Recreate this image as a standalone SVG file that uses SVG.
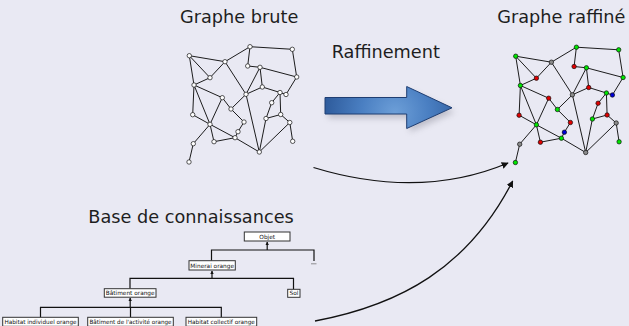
<svg xmlns="http://www.w3.org/2000/svg" xmlns:xlink="http://www.w3.org/1999/xlink" width="629" height="326" viewBox="0 0 629 326">
  <style>
    .title { font-family: "DejaVu Sans", "Liberation Sans", sans-serif; font-size: 17.7px; fill: #1e1e1e; }
    .edge { stroke: #111; stroke-width: 0.95; fill: none; stroke-linecap: round; }
    .v { stroke: #111; stroke-width: 0.7; }
    .w { fill: #ffffff; }
    .g { fill: #00e600; }
    .r { fill: #e00000; }
    .b { fill: #0000d8; }
    .k { fill: #8a8a8a; }
    .box { fill: #ffffff; stroke: #333; stroke-width: 1; }
    .boxtxt { font-family: "DejaVu Sans", "Liberation Sans", sans-serif; font-size: 5.8px; fill: #111; text-anchor: middle; }
    .tree { stroke: #111; stroke-width: 1.2; fill: none; }
    .flow { stroke: #111; stroke-width: 1.3; fill: none; }
  </style>
  <defs>
    <marker id="tip" viewBox="0 0 10 10" refX="9" refY="5" markerWidth="7" markerHeight="7" markerUnits="userSpaceOnUse" orient="auto">
      <path d="M0,0 L10,5 L0,10 z" fill="#111"/>
    </marker>
    <marker id="tinyTip" viewBox="0 0 10 10" refX="9" refY="5" markerWidth="3.5" markerHeight="3.5" markerUnits="userSpaceOnUse" orient="auto">
      <path d="M0,0 L10,5 L0,10 z" fill="#111"/>
    </marker>
    <radialGradient id="arrowFill" cx="395" cy="113" r="75" gradientUnits="userSpaceOnUse">
      <stop offset="0" stop-color="#6d9fd8"/>
      <stop offset="0.45" stop-color="#4a7fc2"/>
      <stop offset="1" stop-color="#2b5797"/>
    </radialGradient>
    <filter id="softShadow" x="-20%" y="-30%" width="140%" height="170%">
      <feGaussianBlur stdDeviation="3"/>
    </filter>
    <!-- shared edge set of the graph, drawn once per copy -->
    <g id="edges" class="edge">
      <path d="M189.3,55.7L225,61.7 M189.3,55.7L210,77.7 M189.3,55.7L194,85 M225,61.7L210,77.7 M225,61.7L250,46.7 M225,61.7L246,94.3
               M250,46.7L292.3,49.3 M250,46.7L247.7,66 M292.3,49.3L296.7,77 M247.7,66L260,67.3 M260,67.3L296.7,77 M260,67.3L262.3,87
               M260,67.3L246,94.3 M262.3,87L280,92.5 M296.7,77L286,94.5 M280,92.5L286,94.5 M280,92.5L271.7,102.7 M280,92.5L280.7,114.5
               M271.7,102.7L266,118.5 M280.7,114.5L266,118.5 M280.7,114.5L289.8,122.5 M289.8,122.5L292.7,141.3 M289.8,122.5L259.3,152
               M266,118.5L259.3,152 M246,94.3L259.3,152 M246,94.3L231,109 M246,94.3L262.3,87 M222.3,97.7L231,109 M222.3,97.7L194,85
               M222.3,97.7L210,124.3 M210,77.7L194,85 M194,85L192.7,114.7 M194,85L210,124.3 M192.7,114.7L210,124.3 M210,124.3L235,137.7
               M210,124.3L214,141.7 M210,124.3L193.3,143.7 M193.3,143.7L189,162 M214,141.7L235,137.7 M235,137.7L259.3,152
               M235,137.7L238,131.7 M238,131.7L244,122 M244,122L231,109"/>
    </g>
  </defs>

  <rect x="0" y="0" width="629" height="326" fill="#e9e9f3"/>

  <!-- titles -->
  <g id="title-raw"><text class="title" x="180" y="22.5">Graphe brute</text></g>
  <g id="title-refined"><text class="title" x="497.3" y="22.5">Graphe raffiné</text></g>
  <g id="title-step"><text class="title" x="331.7" y="58.3">Raffinement</text></g>
  <g id="title-kb"><text class="title" x="88.3" y="223.3">Base de connaissances</text></g>

  <!-- raw graph: plain vertices -->
  <g id="graph-raw">
    <use xlink:href="#edges"/>
    <g class="v w">
      <circle cx="189.3" cy="55.7" r="2.2"/><circle cx="250" cy="46.7" r="2.2"/><circle cx="292.3" cy="49.3" r="2.2"/>
      <circle cx="225" cy="61.7" r="2.2"/><circle cx="247.7" cy="66" r="2.2"/><circle cx="260" cy="67.3" r="2.2"/>
      <circle cx="296.7" cy="77" r="2.2"/><circle cx="210" cy="77.7" r="2.2"/><circle cx="194" cy="85" r="2.2"/>
      <circle cx="262.3" cy="87" r="2.2"/><circle cx="280" cy="92.5" r="2.2"/><circle cx="286" cy="94.5" r="2.2"/>
      <circle cx="246" cy="94.3" r="2.2"/><circle cx="222.3" cy="97.7" r="2.2"/><circle cx="271.7" cy="102.7" r="2.2"/>
      <circle cx="231" cy="109" r="2.2"/><circle cx="192.7" cy="114.7" r="2.2"/><circle cx="280.7" cy="114.5" r="2.2"/>
      <circle cx="266" cy="118.5" r="2.2"/><circle cx="244" cy="122" r="2.2"/><circle cx="210" cy="124.3" r="2.2"/>
      <circle cx="289.8" cy="122.5" r="2.2"/><circle cx="238" cy="131.7" r="2.2"/><circle cx="235" cy="137.7" r="2.2"/>
      <circle cx="214" cy="141.7" r="2.2"/><circle cx="193.3" cy="143.7" r="2.2"/><circle cx="292.7" cy="141.3" r="2.2"/>
      <circle cx="259.3" cy="152" r="2.2"/><circle cx="189" cy="162" r="2.2"/>
    </g>
  </g>

  <!-- refined graph: same topology, coloured vertices -->
  <g id="graph-refined" transform="translate(326.4,0.5)">
    <use xlink:href="#edges"/>
    <g class="v">
      <circle class="g" cx="189.3" cy="55.7" r="2.2"/><circle class="g" cx="250" cy="46.7" r="2.2"/><circle class="g" cx="292.3" cy="49.3" r="2.2"/>
      <circle class="k" cx="225" cy="61.7" r="2.2"/><circle class="r" cx="247.7" cy="66" r="2.2"/><circle class="g" cx="260" cy="67.3" r="2.2"/>
      <circle class="g" cx="296.7" cy="77" r="2.2"/><circle class="r" cx="210" cy="77.7" r="2.2"/><circle class="g" cx="194" cy="85" r="2.2"/>
      <circle class="r" cx="262.3" cy="87" r="2.2"/><circle class="g" cx="280" cy="92.5" r="2.2"/><circle class="b" cx="286" cy="94.5" r="2.2"/>
      <circle class="k" cx="246" cy="94.3" r="2.2"/><circle class="r" cx="222.3" cy="97.7" r="2.2"/><circle class="r" cx="271.7" cy="102.7" r="2.2"/>
      <circle class="g" cx="231" cy="109" r="2.2"/><circle class="r" cx="192.7" cy="114.7" r="2.2"/><circle class="r" cx="280.7" cy="114.5" r="2.2"/>
      <circle class="g" cx="266" cy="118.5" r="2.2"/><circle class="r" cx="244" cy="122" r="2.2"/><circle class="g" cx="210" cy="124.3" r="2.2"/>
      <circle class="k" cx="289.8" cy="122.5" r="2.2"/><circle class="b" cx="238" cy="131.7" r="2.2"/><circle class="g" cx="235" cy="137.7" r="2.2"/>
      <circle class="r" cx="214" cy="141.7" r="2.2"/><circle class="k" cx="193.3" cy="143.7" r="2.2"/><circle class="g" cx="292.7" cy="141.3" r="2.2"/>
      <circle class="k" cx="259.3" cy="152" r="2.2"/><circle class="g" cx="189" cy="162" r="2.2"/>
    </g>
  </g>

  <!-- big refinement arrow -->
  <g id="refine-arrow">
    <path d="M328,101 L409.7,101 L409.7,91 L454.7,112 L409.7,132 L409.7,118 L328,118 Z" fill="#6a6a78" opacity="0.35" filter="url(#softShadow)"/>
    <path d="M325,97.5 L406.7,97.5 L406.7,86.5 L452,107.8 L406.7,128.5 L406.7,114 L325,114 Z" fill="url(#arrowFill)" stroke="#1f3e72" stroke-width="1"/>
  </g>

  <!-- knowledge base tree -->
  <g id="kb-links" class="tree">
    <path d="M267.2,250 V242" marker-end="url(#tinyTip)"/>
    <path d="M211.5,260.7 V250 H314 V261"/>
    <path d="M212,278.3 V271" marker-end="url(#tinyTip)"/>
    <path d="M130,288.7 V278.3 H293.5 V289.3"/>
    <path d="M130.2,307.3 V298" marker-end="url(#tinyTip)"/>
    <path d="M40.5,317.3 V307.3 H221.3 V317.3 M130.5,307.3 V317.3"/>
  </g>
  <path d="M311,263.8 H316.5" stroke="#777" stroke-width="0.8"/>

  <g id="kb-objet"><rect class="box" x="244.3" y="232" width="45.7" height="9"/><text class="boxtxt" x="267.2" y="238.7">Objet</text></g>
  <g id="kb-minerai"><rect class="box" x="189" y="260.7" width="46.3" height="9.3"/><text class="boxtxt" x="212.2" y="267.5">Minerai orange</text></g>
  <g id="kb-batiment"><rect class="box" x="104.3" y="288.7" width="51.7" height="8.5"/><text class="boxtxt" x="130.2" y="295.1">Bâtiment orange</text></g>
  <g id="kb-sol"><rect class="box" x="287.7" y="289.3" width="12.3" height="8"/><text class="boxtxt" x="293.9" y="295.4">Sol</text></g>
  <g id="kb-habitat-ind"><rect class="box" x="2.7" y="317.3" width="75.6" height="9"/><text class="boxtxt" x="40.5" y="323.8" textLength="72" lengthAdjust="spacingAndGlyphs">Habitat individuel orange</text></g>
  <g id="kb-activite"><rect class="box" x="87.7" y="317.3" width="85.6" height="9"/><text class="boxtxt" x="130.5" y="323.8" textLength="82" lengthAdjust="spacingAndGlyphs">Bâtiment de l'activité orange</text></g>
  <g id="kb-habitat-col"><rect class="box" x="186" y="317.3" width="70.7" height="9"/><text class="boxtxt" x="221.3" y="323.8" textLength="67" lengthAdjust="spacingAndGlyphs">Habitat collectif orange</text></g>

  <!-- flows into the refined graph -->
  <g id="connectors">
    <path class="flow" d="M313.5,167.5 Q420,200 508,163" marker-end="url(#tip)"/>
    <path class="flow" d="M315,321 C400,305 468,268 512.7,181" marker-end="url(#tip)"/>
  </g>
</svg>
